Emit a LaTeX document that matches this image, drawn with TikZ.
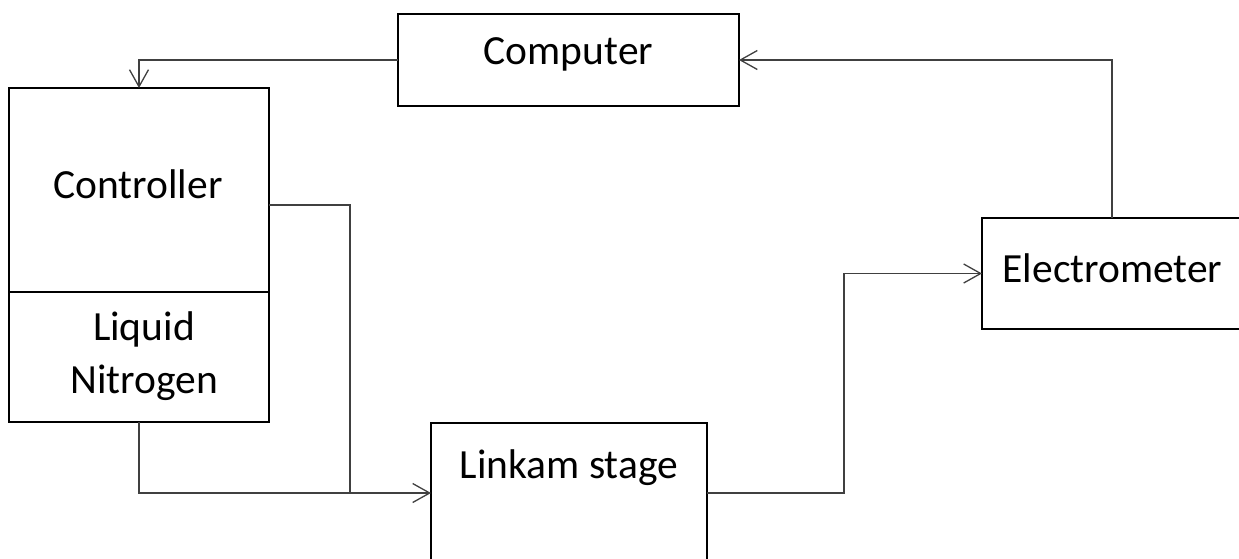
\documentclass[tikz,border=0pt]{standalone}
\usepackage{fontspec}
\setmainfont{Carlito}
\usetikzlibrary{arrows.meta,calc}
\begin{document}
\begin{tikzpicture}[x=1pt,y=-1pt,
  box/.style={draw=black,line width=2.8pt,inner sep=0pt,outer sep=0pt,rectangle},
  lbl/.style={font=\fontsize{41.5}{50}\selectfont,anchor=base,inner sep=0pt},
  conn/.style={draw=black!75,line width=1.3pt},
  arr/.style={conn,-{Straight Barb[length=17pt,width=19pt,line width=1.3pt]}}
]
\useasboundingbox (0,0) rectangle (1239,558);
% boxes
\node[box,minimum width=341pt,minimum height=92pt] (comp) at (568.5,60) {};
\node[box,minimum width=260pt,minimum height=204pt] (ctrl) at (139,190) {};
\node[box,minimum width=260pt,minimum height=130pt] (ln) at (139,357) {};
\node[box,minimum width=276pt,minimum height=140pt] (link) at (569,493) {};
\node[box,minimum width=278pt,minimum height=111pt] (elec) at (1121,273.5) {};
% labels
\node[lbl] (tcomp) at (568.5,64) {Computer};
\node[lbl] (tctrl) at (138,198) {Controller};
\node[lbl] (tliq) at (144,340) {Liquid};
\node[lbl] (tnit) at (144,393) {Nitrogen};
\node[lbl] (tlink) at (569,478) {Linkam stage};
\node[lbl] (telec) at (1112.5,282) {Electrometer};
% junction coordinates
\coordinate (j) at (350,493);
\coordinate (up) at (844,273.5);
% connectors
\draw[arr] (comp.west) -| (ctrl.north);
\draw[arr] ([xshift=-9pt]elec.north) |- (comp.east);
\draw[conn] ([yshift=-15pt]ctrl.east) -| (j);
\draw[arr] (ln.south) |- (j) -- (link.west);
\draw[arr] (link.east) -| (up) -- (elec.west);
\end{tikzpicture}
\end{document}
